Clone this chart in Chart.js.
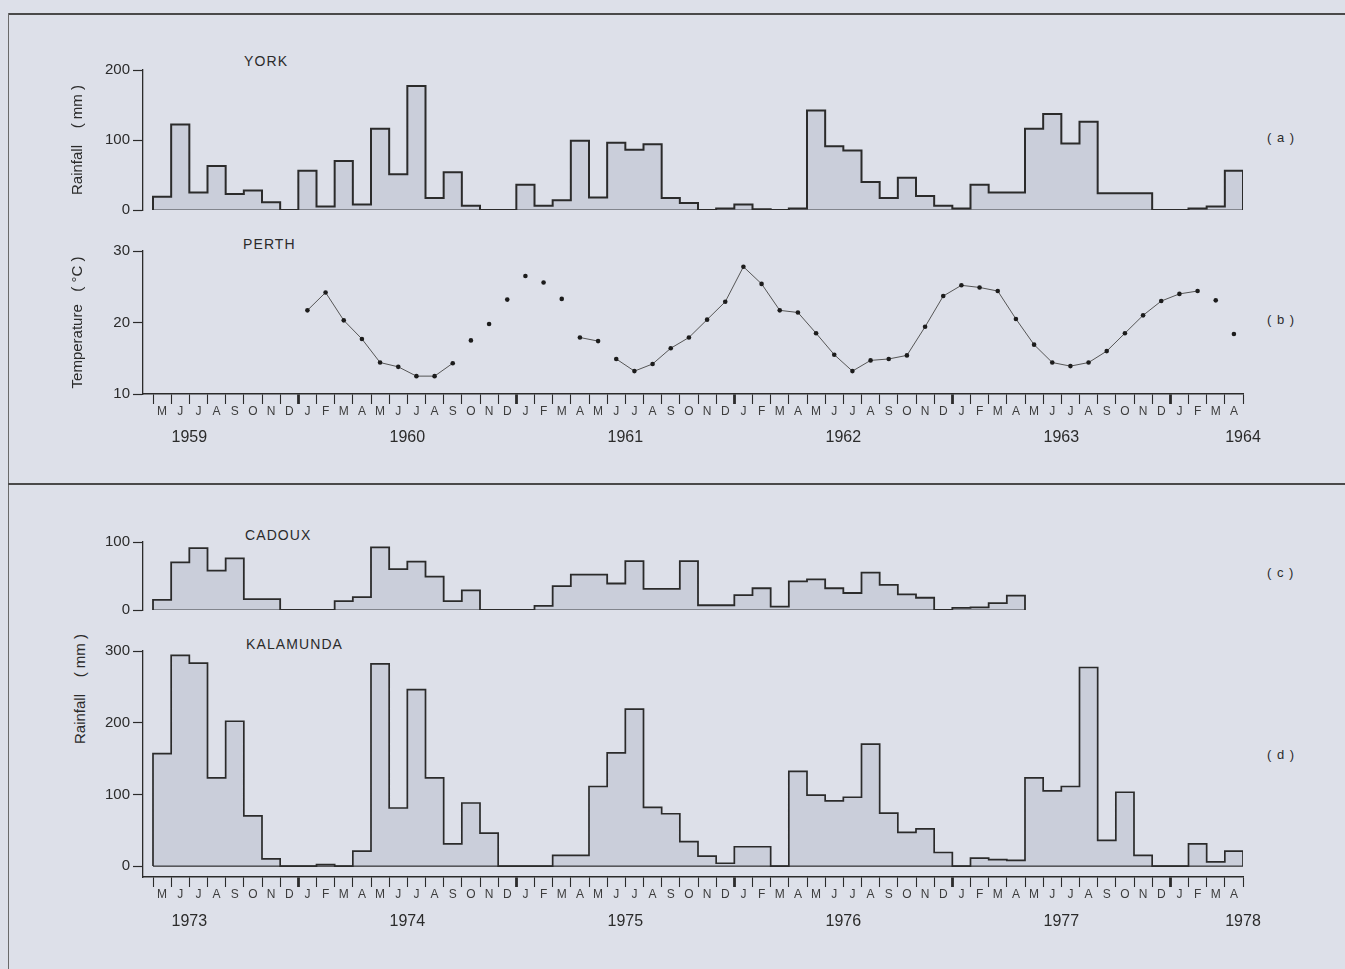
<!DOCTYPE html>
<html>
<head>
<meta charset="utf-8">
<script src="https://cdn.jsdelivr.net/npm/chart.js@4.4.1/dist/chart.umd.min.js"></script>
<style>
  html, body { margin: 0; padding: 0; width: 1345px; height: 969px; overflow: hidden;
    background: #dde0e9; font-family: "Liberation Sans", Arial, sans-serif; color: #2b2b2b; }
  canvas { position: absolute; left: 0; }
  .frame-top { position: absolute; left: 8px; top: 13px; width: 1337px; border-top: 2px solid #4a4a4a; }
  .frame-left { position: absolute; left: 8px; top: 13px; height: 956px; border-left: 1.5px solid #6a6a6a; }
  .divider { position: absolute; left: 8px; top: 483px; width: 1337px; border-top: 2px solid #4a4a4a; }
  .name { position: absolute; font-size: 14px; line-height: 14px; letter-spacing: 1.1px; white-space: nowrap; }
  .tag { position: absolute; font-size: 13px; line-height: 13px; letter-spacing: 1px; white-space: nowrap; }
  .ylab { position: absolute; font-size: 15px; line-height: 15px; white-space: pre;
    transform: translate(-50%, -50%) rotate(-90deg); }
</style>
</head>
<body>
<div class="frame-top"></div>
<div class="frame-left"></div>
<div class="divider"></div>

<div class="name" style="left:244px; top:54px;">YORK</div>
<div class="name" style="left:243px; top:237px;">PERTH</div>
<div class="name" style="left:245px; top:528px;">CADOUX</div>
<div class="name" style="left:246px; top:637px;">KALAMUNDA</div>
<div class="tag" style="left:1267px; top:131px;">( a )</div>
<div class="tag" style="left:1267px; top:313px;">( b )</div>
<div class="tag" style="left:1267px; top:566px;">( c )</div>
<div class="tag" style="left:1267px; top:748px;">( d )</div>
<div class="ylab" style="left:79px; top:689px;">Rainfall    ( mm )</div>

<canvas id="cYork" width="1345" height="164" style="top:58px"></canvas>
<canvas id="cPerth" width="1345" height="207" style="top:239px"></canvas>
<canvas id="cCadoux" width="1345" height="92" style="top:530px"></canvas>
<canvas id="cKala" width="1345" height="290" style="top:639px"></canvas>

<script>
// ---------------- DATA ----------------
// Months run May -> April, five years (60 months) in both halves of the figure
const monthLetters = [
  'M','J','J','A','S','O','N','D',
  'J','F','M','A','M','J','J','A','S','O','N','D',
  'J','F','M','A','M','J','J','A','S','O','N','D',
  'J','F','M','A','M','J','J','A','S','O','N','D',
  'J','F','M','A','M','J','J','A','S','O','N','D',
  'J','F','M','A'
];
const firstMonthOfYear = 4; // series start in May (Jan = 0)

const yearsTop = ['1959', '1960', '1961', '1962', '1963', '1964'];
const yearsBottom = ['1973', '1974', '1975', '1976', '1977', '1978'];

// (a) York monthly rainfall (mm), May 1959 - Apr 1964
const yorkRain = [
  19, 122, 25, 63, 23, 28, 11, 0,
  56, 5, 70, 8, 116, 51, 177, 17, 54, 6, 0, 0,
  36, 6, 14, 99, 18, 96, 86, 94, 17, 10, 0, 2,
  8, 1, 0, 2, 142, 91, 85, 40, 17, 46, 20, 6,
  2, 36, 25, 25, 116, 137, 95, 126, 24, 24, 24, 0,
  0, 2, 5, 56
];

// (b) Perth mean monthly temperature (deg C), May 1959 - Apr 1964
const perthTemp = [
  null, null, null, null, null, null, null, null,
  21.7, 24.2, 20.3, 17.7, 14.4, 13.8, 12.5, 12.5, 14.3, 17.5, 19.8, 23.2,
  26.5, 25.6, 23.3, 17.9, 17.4, 14.9, 13.2, 14.2, 16.4, 17.9, 20.4, 22.9,
  27.8, 25.4, 21.7, 21.4, 18.5, 15.5, 13.2, 14.7, 14.9, 15.4, 19.4, 23.7,
  25.2, 24.9, 24.4, 20.5, 16.9, 14.4, 13.9, 14.4, 16.0, 18.5, 21.0, 23.0,
  24.0, 24.4, 23.1, 18.4
];
// indices of points after which the joining line is absent in the original
const perthLineBreaks = [16, 17, 18, 19, 20, 21, 22, 24, 57, 58];

// (c) Cadoux monthly rainfall (mm), May 1973 - Apr 1977
const cadouxRain = [
  15, 70, 91, 58, 76, 16, 16, 0,
  0, 0, 13, 19, 92, 60, 71, 49, 13, 29, 0, 0,
  0, 6, 35, 52, 52, 39, 72, 31, 31, 72, 7, 7,
  22, 32, 5, 42, 45, 32, 25, 55, 37, 23, 18, 0,
  3, 4, 10, 21
];

// (d) Kalamunda monthly rainfall (mm), May 1973 - Apr 1978
const kalamundaRain = [
  157, 294, 283, 123, 202, 70, 10, 0,
  0, 2, 0, 21, 282, 81, 246, 123, 31, 88, 46, 0,
  0, 0, 15, 15, 111, 158, 219, 82, 73, 34, 14, 4,
  27, 27, 0, 132, 99, 91, 96, 170, 74, 47, 52, 19,
  0, 11, 9, 8, 123, 105, 111, 277, 36, 103, 15, 0,
  0, 31, 6, 21
];

const yorkTicks = [0, 100, 200];
const perthTicks = [10, 20, 30];
const cadouxTicks = [0, 100];
const kalaTicks = [0, 100, 200, 300];

// ---------------- LAYOUT / STYLE ----------------
const N = monthLetters.length;
const PLOT_LEFT = 143, DATA_LEFT = 153, DATA_RIGHT = 1243, CANVAS_W = 1345;
const PAD_LEFT = 60;
const PX_PER_MONTH = (DATA_RIGHT - DATA_LEFT) / N;
const X_MIN = -(DATA_LEFT - PLOT_LEFT) / PX_PER_MONTH;
const INK = '#2b2b2b';
const INK_SOFT = '#3c3c3c';
const FILL = 'rgba(130,136,158,0.20)';
const FONT = '"Liberation Sans", Arial, sans-serif';

Chart.defaults.font.family = FONT;
Chart.defaults.color = INK;
Chart.defaults.animation = false;

const boundaries = Array.from({length: N + 1}, (_, i) => i);
const isYearBoundary = v => v > 0 && v < N && (firstMonthOfYear + v) % 12 === 0;
// year names sit at the middle of each year (end of June) and the last one at the end
const yearPositions = yr => yr.map((_, i) => i < yr.length - 1 ? (6 - firstMonthOfYear) + 12 * i : N);

function histogramPoints(values) {
  const pts = [{x: 0, y: 0}];
  values.forEach((v, i) => pts.push({x: i, y: v}));
  pts.push({x: values.length, y: values[values.length - 1]});
  pts.push({x: values.length, y: 0});
  return pts;
}
function baselinePoints(len) {
  return [{x: 0, y: 0}, {x: len, y: 0}];
}
function histogramDatasets(values, width) {
  return [
    { type: 'line', data: histogramPoints(values), stepped: true, fill: 'origin',
      backgroundColor: FILL, borderColor: INK, borderWidth: width, pointRadius: 0, tension: 0 },
    { type: 'line', data: baselinePoints(values.length), fill: false,
      borderColor: INK, borderWidth: 1.2, pointRadius: 0 }
  ];
}

function yAxis(min, max, tickValues, title) {
  return {
    type: 'linear', position: 'left', min: min, max: max,
    afterBuildTicks: s => { s.ticks = tickValues.map(v => ({value: v})); },
    afterFit: s => { s.width = PLOT_LEFT - PAD_LEFT; },
    grid: { drawOnChartArea: false, drawTicks: true, tickLength: 10, tickColor: INK, tickWidth: 1.2 },
    border: { display: true, color: INK, width: 1.3 },
    ticks: { autoSkip: false, font: {size: 15}, color: INK, padding: 3 },
    title: title
      ? { display: true, text: title, font: {size: 15}, color: INK, padding: {top: 9, bottom: 0} }
      : { display: false }
  };
}
function xHidden() {
  return { type: 'linear', min: X_MIN, max: N, display: false };
}
function xMonths() {
  return {
    type: 'linear', position: 'bottom', min: X_MIN, max: N, weight: 0,
    afterBuildTicks: s => { s.ticks = boundaries.map(v => ({value: v})); },
    afterFit: s => { s.height = 28; },
    grid: { drawOnChartArea: false, drawTicks: true, tickLength: 10, tickColor: INK,
            tickWidth: c => (c.tick && isYearBoundary(c.tick.value)) ? 2.8 : 1.1 },
    border: { display: true, color: INK, width: 1.4 },
    ticks: { autoSkip: false, maxRotation: 0, minRotation: 0, labelOffset: PX_PER_MONTH / 2,
             padding: 0, font: {size: 12}, color: INK_SOFT,
             callback: (v, i) => (monthLetters[i] !== undefined ? monthLetters[i] : '') }
  };
}
function xYears(labels, padding) {
  const pos = yearPositions(labels);
  return {
    type: 'linear', position: 'bottom', min: X_MIN, max: N, weight: 1,
    afterBuildTicks: s => { s.ticks = pos.map(v => ({value: v})); },
    afterFit: s => { s.height = 24; },
    grid: { display: false, drawTicks: false },
    border: { display: false },
    ticks: { autoSkip: false, maxRotation: 0, minRotation: 0, padding: padding,
             font: {size: 16}, color: INK, callback: (v, i) => labels[i] }
  };
}
function baseOptions(scales, padBottom) {
  return {
    responsive: false, animation: false, events: [],
    layout: { padding: { left: PAD_LEFT, right: CANVAS_W - DATA_RIGHT, top: 10, bottom: padBottom } },
    plugins: { legend: { display: false }, tooltip: { enabled: false }, title: { display: false } },
    scales: scales
  };
}

// (a) York
new Chart(document.getElementById('cYork'), {
  type: 'line',
  data: { datasets: histogramDatasets(yorkRain, 2) },
  options: baseOptions({ x: xHidden(), y: yAxis(0, 200, yorkTicks, 'Rainfall    ( mm )') }, 10)
});

// (b) Perth temperature
new Chart(document.getElementById('cPerth'), {
  type: 'line',
  data: { datasets: [{
    data: perthTemp.map((v, i) => ({x: i + 0.5, y: v})),
    borderColor: '#555', borderWidth: 1, spanGaps: false, tension: 0,
    pointRadius: 2.3, pointBackgroundColor: '#1c1c1c', pointBorderWidth: 0,
    segment: { borderColor: c => perthLineBreaks.includes(c.p0DataIndex) ? 'rgba(0,0,0,0)' : '#555' }
  }] },
  options: baseOptions({ x: xMonths(), xYear: xYears(yearsTop, 6),
                         y: yAxis(10, 30, perthTicks, 'Temperature   ( °C )') }, 0)
});

// (c) Cadoux
new Chart(document.getElementById('cCadoux'), {
  type: 'line',
  data: { datasets: histogramDatasets(cadouxRain, 1.8) },
  options: baseOptions({ x: xHidden(), y: yAxis(0, 100, cadouxTicks, null) }, 10)
});

// (d) Kalamunda  (axis line sits a little below the zero level)
new Chart(document.getElementById('cKala'), {
  type: 'line',
  data: { datasets: histogramDatasets(kalamundaRain, 1.7) },
  options: baseOptions({ x: xMonths(), xYear: xYears(yearsBottom, 7),
                         y: yAxis(-15.2, 300, kalaTicks, null) }, 0)
});
</script>
</body>
</html>
